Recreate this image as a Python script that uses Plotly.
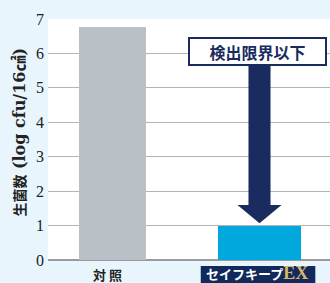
import plotly.graph_objects as go

categories = ["対 照", "セイフキープEX"]
values = [6.78, 1.0]
bar_widths = [0.46, 0.56]
bar_colors = ["#b9c1c7", "#00a8de"]
y_ticks = [0, 1, 2, 3, 4, 5, 6, 7]
y_title_main = "生菌数"
y_title_unit = "(log cfu/16㎠)"
callout = "検出限界以下"
logo_kana = "セイフキープ"
logo_latin = "EX"

NAVY = "#1a2b5f"
x_idx = list(range(len(categories)))

fig = go.Figure()
fig.add_trace(go.Bar(
    x=x_idx, y=values, width=bar_widths,
    marker=dict(color=bar_colors, line=dict(width=0)),
    hoverinfo="skip", showlegend=False,
))

# arrow pointing down to the second bar
i = 1
v = values[i]
top = 5.64
head_base = v + 0.6
tip = v + 0.07
sw, hw = 0.075, 0.15
path = (f"M {i-sw},{top} L {i+sw},{top} L {i+sw},{head_base} L {i+hw},{head_base} "
        f"L {i},{tip} L {i-hw},{head_base} L {i-sw},{head_base} Z")
fig.add_shape(type="path", path=path, xref="x", yref="y",
              fillcolor=NAVY, line=dict(width=0), layer="above")

fig.add_annotation(
    x=i - 0.014, y=6.05, xref="x", yref="y", text=f"<b>{callout}</b>",
    showarrow=False, font=dict(family="Noto Sans CJK JP", size=16, color=NAVY),
    bgcolor="white", bordercolor=NAVY, borderwidth=2, width=133, height=23,
    xanchor="center", yanchor="middle",
)

# category labels
fig.add_annotation(
    x=-0.034, y=-0.012, xref="x", yref="paper", text=f"<b>{categories[0]}</b>",
    showarrow=False, font=dict(family="Noto Sans CJK JP", size=13, color="#222"),
    xanchor="center", yanchor="top",
)
# logo plate behind the second category label
fig.add_shape(type="rect", xref="x", yref="paper", x0=0.6, x1=1.38, y0=-0.025, y1=-0.11,
              fillcolor="#11295b", line=dict(width=0), layer="above")
fig.add_annotation(
    x=0.985, y=-0.056, xref="x", yref="paper",
    text=(f"<b>{logo_kana}</b><span style='font-family:Liberation Serif;font-size:18px;color:#d9b56c'><b>{logo_latin}</b></span>"),
    showarrow=False, font=dict(family="Noto Sans CJK JP", size=13, color="white"),
    borderpad=0, xanchor="center", yanchor="middle",
)

# y-axis title
fig.add_annotation(
    x=-0.106, y=0.529, xref="paper", yref="paper",
    text=(f"<b><span style='font-family:Noto Sans CJK JP;font-size:14px'>{y_title_main}</span> "
          f"{y_title_unit}</b>"),
    textangle=-90, showarrow=False,
    font=dict(family="DejaVu Serif, Noto Sans CJK JP", size=16, color="#222"),
    xanchor="center", yanchor="middle",
)

fig.update_layout(
    width=330, height=283,
    margin=dict(l=48, r=0, t=19, b=23),
    paper_bgcolor="#e9f5fc", plot_bgcolor="white",
    bargap=0,
    xaxis=dict(range=[-0.44, 1.48], showticklabels=False, showgrid=False,
               zeroline=False, showline=False, fixedrange=True),
    yaxis=dict(range=[0, 7], tickvals=y_ticks, showgrid=True, gridcolor="#b4b4b4",
               gridwidth=1, zeroline=True, zerolinecolor="#9a9a9a", zerolinewidth=1.5,
               showline=False, ticks="", ticklabelstandoff=3,
               tickfont=dict(family="Liberation Serif", size=16, color="#222"),
               fixedrange=True),
)
fig.update_yaxes(tickprefix="<b>", ticksuffix="</b>")

fig.write_html("out.html", config={"displayModeBar": False},
               post_script="document.body.style.margin='0';document.body.style.background='#e9f5fc';")
